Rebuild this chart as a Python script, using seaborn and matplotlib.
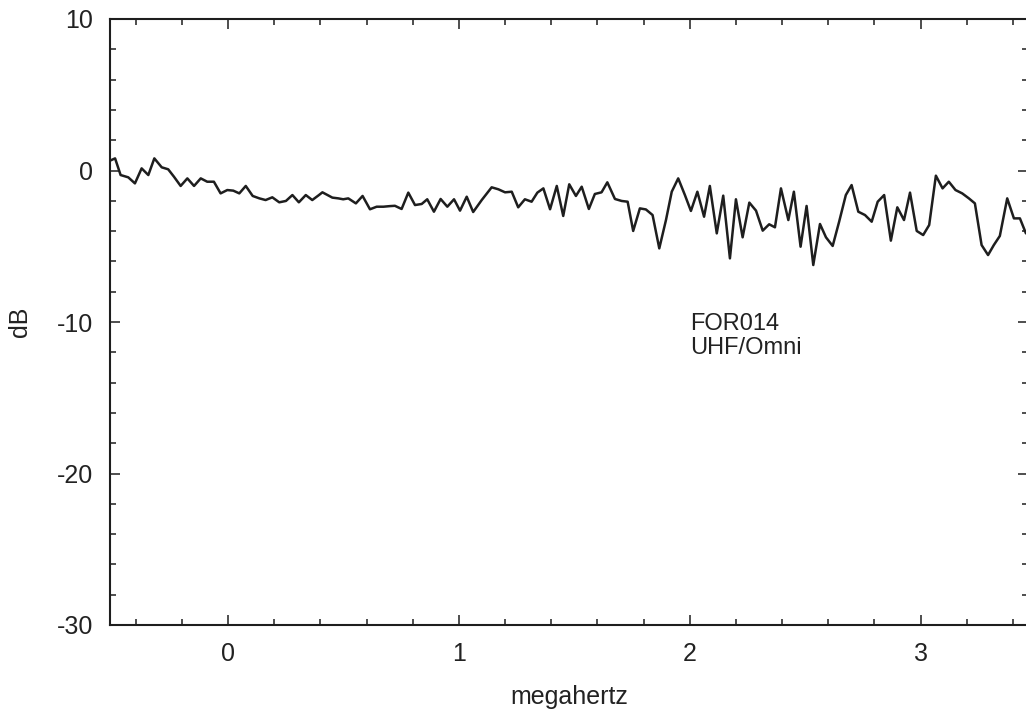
import numpy as np
import pandas as pd
import matplotlib
matplotlib.use("Agg")
import matplotlib.pyplot as plt
from matplotlib.ticker import MultipleLocator
import seaborn as sns

# ---------------------------------------------------------------------------
# Data (frequency in MHz, level in dB)
# ---------------------------------------------------------------------------
freq_mhz = [
    -0.511, -0.489, -0.465, -0.432, -0.403, -0.374, -0.345, -0.319, -0.287, -0.259,
    -0.234, -0.205, -0.176, -0.147, -0.118, -0.090, -0.061, -0.032, -0.003, 0.023,
    0.049, 0.077, 0.107, 0.136, 0.163, 0.192, 0.222, 0.251, 0.279, 0.307,
    0.337, 0.365, 0.394, 0.409, 0.452, 0.478, 0.499, 0.521, 0.554, 0.583,
    0.615, 0.644, 0.673, 0.702, 0.723, 0.752, 0.781, 0.810, 0.839, 0.863,
    0.892, 0.921, 0.950, 0.979, 1.005, 1.034, 1.062, 1.099, 1.142, 1.171,
    1.200, 1.229, 1.257, 1.286, 1.315, 1.340, 1.366, 1.395, 1.424, 1.452,
    1.478, 1.507, 1.532, 1.563, 1.589, 1.618, 1.643, 1.676, 1.705, 1.731,
    1.755, 1.784, 1.810, 1.839, 1.868, 1.897, 1.922, 1.950, 1.979, 2.005,
    2.033, 2.062, 2.087, 2.117, 2.145, 2.174, 2.200, 2.229, 2.258, 2.287,
    2.316, 2.344, 2.369, 2.395, 2.427, 2.451, 2.480, 2.506, 2.535, 2.564,
    2.590, 2.619, 2.647, 2.676, 2.701, 2.730, 2.759, 2.788, 2.814, 2.842,
    2.871, 2.899, 2.928, 2.954, 2.983, 3.011, 3.037, 3.066, 3.095, 3.122,
    3.151, 3.180, 3.209, 3.235, 3.264, 3.292, 3.317, 3.343, 3.375, 3.404,
    3.430, 3.456,
]
level_db = [
    0.65, 0.80, -0.30, -0.45, -0.85, 0.14, -0.30, 0.80, 0.21, 0.08,
    -0.41, -1.02, -0.52, -1.02, -0.52, -0.74, -0.74, -1.51, -1.29, -1.33,
    -1.51, -1.02, -1.68, -1.84, -1.95, -1.77, -2.10, -2.01, -1.62, -2.10,
    -1.62, -1.95, -1.62, -1.44, -1.79, -1.84, -1.90, -1.84, -2.17, -1.68,
    -2.56, -2.39, -2.39, -2.35, -2.33, -2.54, -1.46, -2.28, -2.21, -1.90,
    -2.72, -1.88, -2.39, -1.90, -2.65, -1.73, -2.74, -1.95, -1.11, -1.24,
    -1.44, -1.40, -2.43, -1.90, -2.06, -1.46, -1.18, -2.56, -1.02, -3.00,
    -0.91, -1.68, -1.07, -2.54, -1.55, -1.44, -0.78, -1.88, -2.01, -2.06,
    -3.99, -2.50, -2.57, -2.94, -5.14, -3.27, -1.40, -0.52, -1.62, -2.67,
    -1.40, -3.05, -1.02, -4.15, -1.66, -5.80, -1.90, -4.41, -2.12, -2.65,
    -3.97, -3.55, -3.75, -1.18, -3.27, -1.40, -5.03, -2.34, -6.24, -3.53,
    -4.41, -4.98, -3.38, -1.62, -0.96, -2.72, -2.94, -3.38, -2.06, -1.62,
    -4.63, -2.43, -3.27, -1.46, -3.99, -4.26, -3.60, -0.34, -1.18, -0.74,
    -1.29, -1.51, -1.84, -2.17, -4.92, -5.58, -4.92, -4.32, -1.84, -3.16,
    -3.16, -4.15,
]

x_ticks = [0, 1, 2, 3]
y_ticks = [-30, -20, -10, 0, 10]
note_lines = ["FOR014", "UHF/Omni"]

df = pd.DataFrame({"megahertz": freq_mhz, "dB": level_db})

# ---------------------------------------------------------------------------
# Plot
# ---------------------------------------------------------------------------
sns.set_style("ticks")
plt.rcParams["font.family"] = ["Liberation Sans", "DejaVu Sans"]
plt.rcParams["axes.unicode_minus"] = False

fig = plt.figure(figsize=(10.26, 7.14), dpi=100)
ax = fig.add_axes([110 / 1026, 89 / 714, 918 / 1026, 606 / 714])

sns.lineplot(data=df, x="megahertz", y="dB", ax=ax, estimator=None, sort=False,
             color="#1e1e1e", linewidth=1.8)

ax.set_xlim(-0.511, 3.465)
ax.set_ylim(-30, 10)
ax.set_xticks(x_ticks)
ax.set_yticks(y_ticks)
ax.xaxis.set_minor_locator(MultipleLocator(0.2))
ax.yaxis.set_minor_locator(MultipleLocator(2))

ax.tick_params(which="both", direction="in", top=True, right=True,
               color="#1e1e1e", width=1.1, labelsize=18, labelcolor="#222222", pad=12)
ax.tick_params(which="major", length=7)
ax.tick_params(which="minor", length=4)
for sp in ax.spines.values():
    sp.set_linewidth(1.5)
    sp.set_color("#1e1e1e")

ax.set_xlabel("megahertz", fontsize=18, color="#222222", labelpad=14)
ax.set_ylabel("dB", fontsize=18, color="#222222", labelpad=18)

ax.text(2.0, -9.4, "\n".join(note_lines), fontsize=17, color="#222222",
        ha="left", va="top", linespacing=1.15)

fig.savefig("out.png", dpi=100)
